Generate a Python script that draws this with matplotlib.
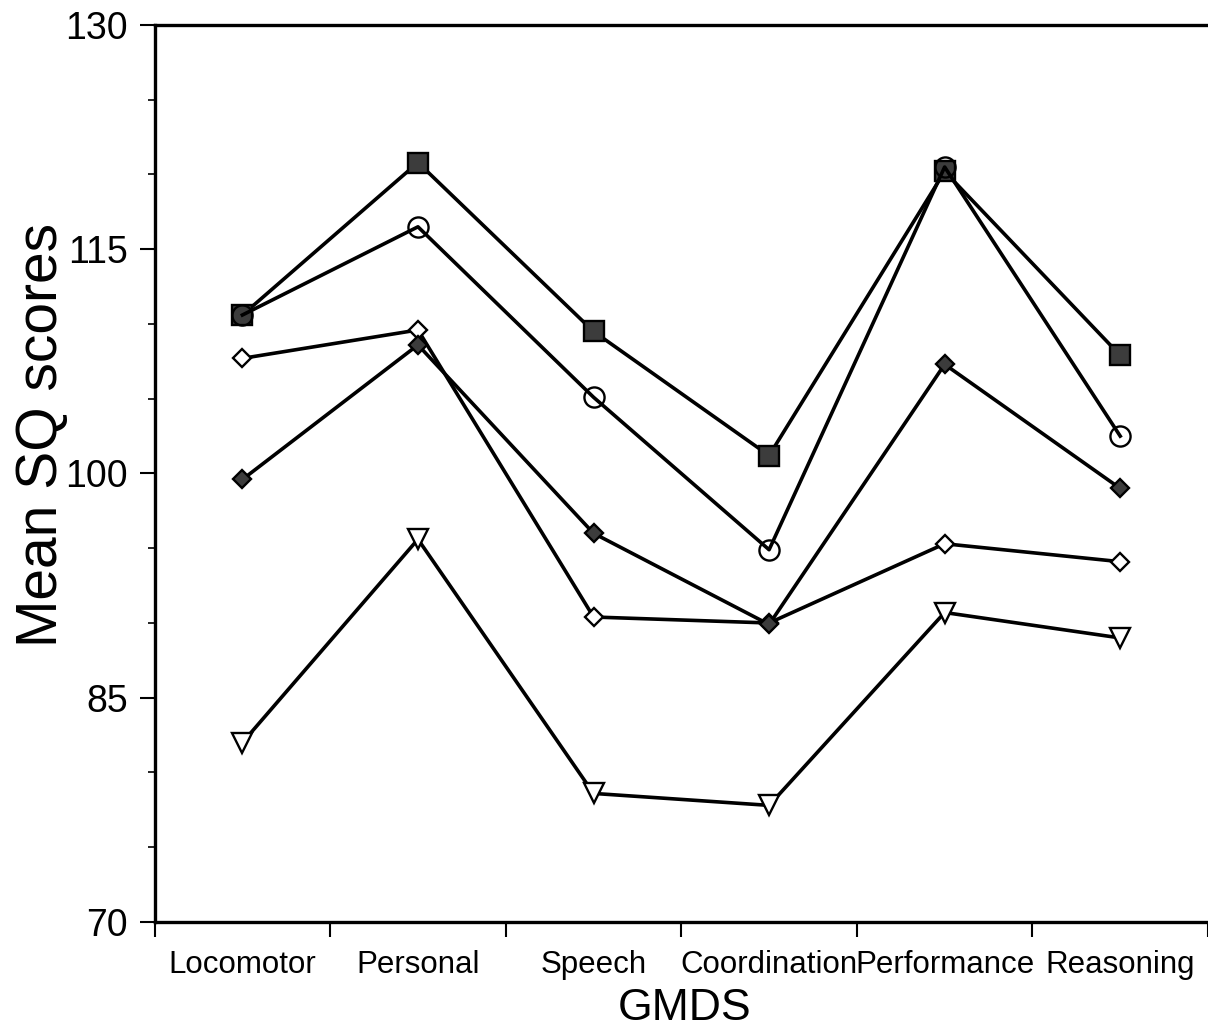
import matplotlib
matplotlib.use("Agg")
import matplotlib.pyplot as plt
from matplotlib.ticker import FixedLocator

plt.rcParams['font.family'] = ['Liberation Sans', 'DejaVu Sans']

# --- data ---
categories = ["Locomotor", "Personal", "Speech", "Coordination", "Performance", "Reasoning"]
square_vals = [110.6, 120.8, 109.5, 101.2, 120.2, 107.9]
circle_vals = [110.6, 116.5, 105.1, 94.9, 120.5, 102.5]
open_diamond_vals = [107.7, 109.6, 90.4, 90.0, 95.3, 94.1]
filled_diamond_vals = [99.6, 108.6, 96.0, 89.9, 107.3, 99.0]
triangle_vals = [82.0, 95.6, 78.6, 77.8, 90.7, 89.0]
y_ticks = [70, 85, 100, 115, 130]
y_minor = [75, 80, 90, 95, 105, 110, 120, 125]

x = list(range(1, len(categories) + 1))

fig = plt.figure(figsize=(12.08, 10.32), dpi=100)
ax = fig.add_axes([0.128, 0.1066, 0.872, 0.8692])

lw = 2.6
mew = 1.7
fill = "#3c3c3c"

ax.plot(x, triangle_vals, color="black", lw=lw, marker="v", ms=14,
        mfc="white", mec="black", mew=mew, zorder=3)
ax.plot(x, open_diamond_vals, color="black", lw=lw, marker="D", ms=8.7,
        mfc="white", mec="black", mew=mew, zorder=3)
ax.plot(x, filled_diamond_vals, color="black", lw=lw, marker="D", ms=8.7,
        mfc=fill, mec="black", mew=mew, zorder=4)
ax.plot(x, square_vals, color="black", lw=lw, marker="s", ms=14,
        mfc=fill, mec="black", mew=mew, zorder=4)
ax.plot(x, circle_vals, color="black", lw=lw, marker="o", ms=14.5,
        mfc="none", mec="black", mew=mew, zorder=5)

ax.set_xlim(0.5, 6.5)
ax.set_ylim(70, 130)

# y axis ticks
ax.set_yticks(y_ticks)
ax.yaxis.set_minor_locator(FixedLocator(y_minor))
ax.tick_params(axis="y", which="major", direction="out", length=11, width=1.5,
               labelsize=27, pad=8)
ax.tick_params(axis="y", which="minor", direction="out", length=5, width=1.2)

# x axis: labels at category centres, tick marks at boundaries
ax.set_xticks(x)
ax.set_xticklabels(categories)
ax.xaxis.set_minor_locator(FixedLocator([0.5, 1.5, 2.5, 3.5, 4.5, 5.5, 6.5]))
ax.tick_params(axis="x", which="major", length=0, labelsize=22.5, pad=20)
ax.tick_params(axis="x", which="minor", direction="out", length=11, width=1.5)

for side in ["left", "bottom", "top"]:
    ax.spines[side].set_linewidth(2.4)
ax.spines["right"].set_visible(False)

fig.text(42 / 1208, 1 - 435 / 1032, "Mean SQ scores", fontsize=41,
         rotation=90, ha="center", va="center")
fig.text(685 / 1208, 1 - 1008 / 1032, "GMDS", fontsize=32,
         ha="center", va="center")

fig.savefig("out.png", dpi=100)
